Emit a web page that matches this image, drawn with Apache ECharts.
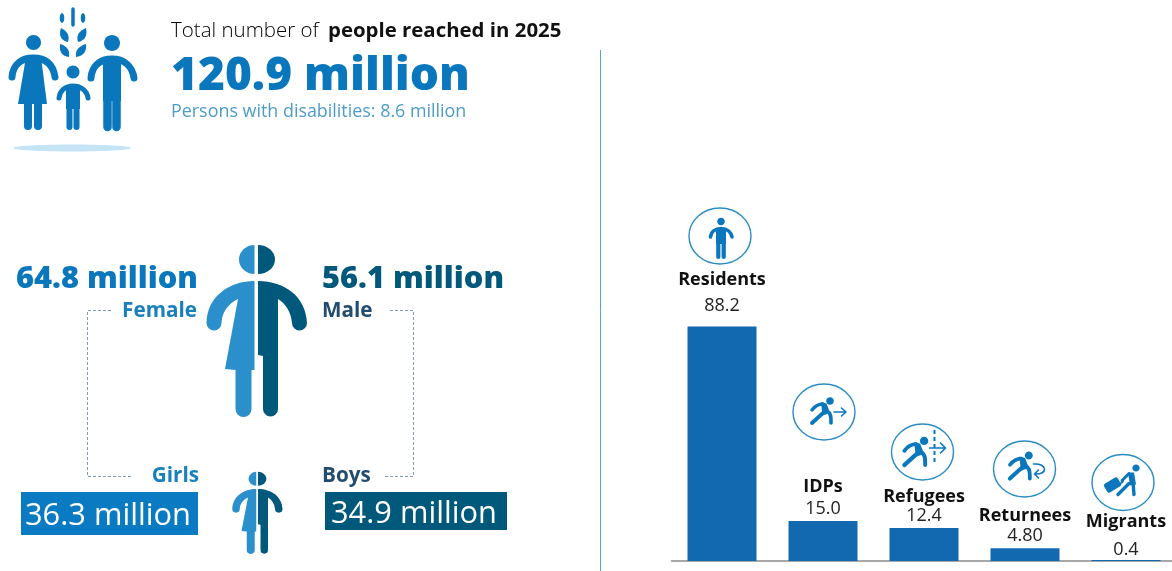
<!DOCTYPE html>
<html>
<head>
<meta charset="utf-8">
<style>html,body{margin:0;padding:0;background:#fff}#chart{width:1172px;height:571px}</style>
<script src="https://cdn.jsdelivr.net/npm/echarts@6/dist/echarts.min.js"></script>
</head>
<body>
<div id="chart"></div>
<script>
// Population groups reached, in millions
const groups = ['Residents', 'IDPs', 'Refugees', 'Returnees', 'Migrants'];
const groupValues = [88.2, 15.0, 12.4, 4.8, 0.4];
const groupValueLabels = ['88.2', '15.0', '12.4', '4.80', '0.4'];

// Headline figures, in millions
const totalReached = 120.9;
const withDisabilities = 8.6;
const female = 64.8;
const male = 56.1;
const girls = 36.3;
const boys = 34.9;

// Distance of each bar's value and name label above the bar top
const valueLift = [12, 3, 3, 3, 1];
const nameLift = [38, 25, 22, 23, 29];

const BLUE = '#0a77bd', MID = '#2a8fca', DARK = '#00587a', NAVY = '#224c70', BAR = '#1269b0', RING = '#2a8cc4';
const FONT = '"Open Sans", sans-serif';
const m = v => v.toFixed(1) + ' million';

function text(x, y, str, size, fill, weight, align) {
  return { type: 'text', x, y, silent: true, style: {
    text: str, fontFamily: FONT, fontSize: size, fontWeight: weight || 400,
    fill, textAlign: align || 'left', textVerticalAlign: 'middle' } };
}
function rect(x, y, w, h, fill) {
  return { type: 'rect', silent: true, shape: { x, y, width: w, height: h }, style: { fill } };
}
function dashes(points) {
  return { type: 'polyline', silent: true, shape: { points },
    style: { fill: null, stroke: '#7c9fb3', lineWidth: 1, lineDash: [3, 2] } };
}

// Vector shapes
const solid = (pathData, fill) => ({ type: 'path', shape: { pathData }, style: { fill } });
const line = (pathData, stroke, lineWidth, lineDash) => ({ type: 'path', shape: { pathData },
  style: { fill: null, stroke, lineWidth, lineCap: lineDash ? 'butt' : 'round', lineJoin: 'round', lineDash } });
const oval = (cx, cy, rx, ry, fill) => ({ type: 'ellipse', shape: { cx, cy, rx, ry }, style: { fill } });

// Half-and-half figure used for adults and children
function splitFigure(x, y, sx, sy) {
  return { type: 'group', x, y, scaleX: sx, scaleY: sy, children: [
    solid('M254.5 245 A15.5 14.5 0 0 0 254.5 274 Z', MID),
    solid('M258 245 A17 14.5 0 0 1 258 274 Z', DARK),
    solid('M254.5 281 C230 281 207 296 206.5 323 A7.5 7.5 0 0 0 221.5 323 C222 312 228 304 238 299 L225 369 L235.5 370 L235.5 409 A8 8 0 0 0 251.5 409 L251.5 370 L254.5 370 Z', MID),
    solid('M258 281 C285 281 306 297 307 323 A7.5 7.5 0 0 1 292 323 C291 312 286 304 278 299 L278 409 A7.5 7.5 0 0 1 263 409 L263 356 L258 355 Z', DARK)
  ] };
}

function familyIcon() {
  return { type: 'group', children: [
    oval(72, 148, 59, 3.5, '#c4e4f6'),
    // wheat
    line('M73 9 L73 25', BLUE, 3.5),
    oval(62, 18, 2.3, 5, BLUE), oval(83, 18, 2.3, 5, BLUE),
    solid('M61 28 C58 36 62 41 68 42 C70 35 67 31 61 28 Z', BLUE),
    solid('M86 28 C88 36 84 41 78 42 C76 35 79 31 86 28 Z', BLUE),
    solid('M60 44 C59 52 62 56 69 57 C70 50 67 46 60 44 Z', BLUE),
    solid('M86 44 C87 52 83 56 76 57 C75 50 79 46 86 44 Z', BLUE),
    // mother
    oval(33.5, 42.5, 7.5, 7.5, BLUE),
    line('M12 77 C13 64 22 58 33 58 C45 58 53 64 55 77', BLUE, 7),
    solid('M26 57 L41 57 L47 104 L18 104 Z', BLUE),
    line('M28 104 L28 126', BLUE, 8), line('M38 104 L38 126', BLUE, 8),
    // child
    oval(73, 72, 6.5, 6.5, BLUE),
    line('M59 98 C60 90 66 86 73 86 C80 86 87 90 88 98', BLUE, 5),
    rect(66, 85, 14, 24, BLUE),
    line('M69.5 108 L69.5 127', BLUE, 6), line('M76.5 108 L76.5 127', BLUE, 6),
    // father
    oval(112, 43, 8, 8, BLUE),
    line('M91 78 C92 65 101 59 112 59 C123 59 132 65 134 78', BLUE, 7),
    rect(103, 57, 18, 44, BLUE),
    line('M107.5 100 L107.5 127', BLUE, 8.5), line('M116.5 100 L116.5 127', BLUE, 8.5)
  ] };
}

// Badge pictograms, drawn around their own centre
const runner = (ox, oy, s) => ({ type: 'group', x: ox, y: oy, scaleX: s || 1, scaleY: s || 1, children: [
  oval(6, -11, 3.8, 3.8, BLUE),
  line('M-12 -2 C-9 -6 -5 -8 -1 -8', BLUE, 3.4),
  solid('M-3 -10 L2.5 -8.5 L6 1 L-1.5 3.5 Z', BLUE),
  line('M3 -1 C7 1 7 5 7 11', BLUE, 3.6),
  line('M-1 1 L-12 11', BLUE, 3.8)
] });

const glyphs = [
  { type: 'group', children: [
    oval(1, -14.5, 3.8, 3.8, BLUE),
    line('M-9.5 1 C-9 -4 -5 -7.5 1 -7.5 C7 -7.5 11 -4 12 1', BLUE, 3.6),
    rect(-4, -8, 10, 16, BLUE),
    line('M-1.7 7 L-1.7 21', BLUE, 4.2), line('M3.7 7 L3.7 21', BLUE, 4.2)
  ] },
  { type: 'group', children: [
    runner(0, 0),
    line('M10 0 L22 0 M17.5 -4 L22 0 L17.5 4', BLUE, 1.6)
  ] },
  { type: 'group', children: [
    runner(-5, 1, 1.1),
    line('M12 -22 L12 11', BLUE, 2, [4, 3]),
    line('M7 -4 L23 -4 M18 -9 L23 -4 L18 1', BLUE, 1.6)
  ] },
  { type: 'group', children: [
    runner(-2, -2, 1.05),
    line('M9 -5 C23 -6 24 6 10 5 M14 1 L10 5 L14 9', BLUE, 1.6)
  ] },
  { type: 'group', children: [
    oval(13, -14.5, 3.6, 3.6, BLUE),
    solid('M5 -10 L11 -10 L13 2 L7 3 Z', BLUE),
    line('M6 -9 L-1 -2', BLUE, 3),
    line('M10 0 L11 12', BLUE, 3.4), line('M6 1 L-5 12', BLUE, 3.4),
    line('M0 -1 L-4 2', BLUE, 1.6),
    { type: 'rect', x: -10.5, y: 2.5, rotation: 0.55,
      shape: { x: -8, y: -5, width: 16, height: 10, r: 2 }, style: { fill: BLUE } }
  ] }
];

// Badge centres
const badges = [
  { cx: 720, cy: 236 }, { cx: 824, cy: 412 }, { cx: 922.5, cy: 452 },
  { cx: 1024.5, cy: 469 }, { cx: 1123, cy: 482.5 }
];

const chart = echarts.init(document.getElementById('chart'), null, { renderer: 'canvas' });

chart.setOption({
  animation: false,
  backgroundColor: '#fff',
  grid: { left: 671.5, width: 505, top: 295, height: 266, outerBoundsMode: 'none' },
  xAxis: {
    type: 'category', data: groups,
    axisLine: { lineStyle: { color: '#8a8a8a', width: 1.5 } },
    axisTick: { show: false }, axisLabel: { show: false }
  },
  yAxis: { type: 'value', min: 0, max: 100, show: false },
  graphic: { elements: [
    // Headline
    text(171, 31, 'Total number of', 20.5, '#000', 300),
    text(328, 31, 'people reached in 2025', 20.4, '#111', 700),
    text(171, 77, m(totalReached), 46, BLUE, 800),
    text(171, 112, 'Persons with disabilities: ' + m(withDisabilities), 17.9, '#4c9cc8', 400),
    // Panel divider
    { type: 'line', silent: true, shape: { x1: 600.5, y1: 50, x2: 600.5, y2: 571 },
      style: { stroke: '#5aa3cb', lineWidth: 1 } },
    // Adults
    text(198, 279.5, m(female), 30.8, BLUE, 800, 'right'),
    text(322, 279.5, m(male), 30.8, DARK, 800),
    text(197, 311, 'Female', 20.7, '#1a80bd', 700, 'right'),
    text(322, 311, 'Male', 20.7, NAVY, 700),
    // Brackets linking adults to children
    dashes([[111, 310.5], [87.5, 310.5], [87.5, 476.5], [131, 476.5]]),
    dashes([[390, 310.5], [413.5, 310.5], [413.5, 476.5], [383, 476.5]]),
    // Children
    text(199, 476, 'Girls', 20.7, '#1a80bd', 700, 'right'),
    text(322, 476, 'Boys', 20.7, NAVY, 700),
    rect(21, 492, 177, 43, '#0a7bc2'),
    rect(325, 492, 182, 38, DARK),
    text(25, 516.5, m(girls), 30.8, '#fff', 400),
    text(331, 514, m(boys), 30.8, '#fff', 400)
  ] },
  series: [
    {
      type: 'bar', barWidth: 69, barGap: '-100%', silent: true,
      itemStyle: { color: BAR },
      data: groupValues.map((value, i) => ({
        value,
        label: { show: true, position: 'top', distance: valueLift[i],
          formatter: groupValueLabels[i], fontFamily: FONT, fontSize: 18, color: '#222' }
      }))
    },
    {
      // Invisible twin of the bars that carries the group names
      type: 'bar', barWidth: 69, barGap: '-100%', silent: true,
      itemStyle: { color: 'transparent' },
      data: groupValues.map((value, i) => ({
        value,
        label: { show: true, position: 'top', distance: nameLift[i],
          formatter: groups[i], fontFamily: FONT, fontSize: 18, fontWeight: 700, color: '#111' }
      }))
    },
    {
      // Pictograms and badges
      type: 'custom', coordinateSystem: 'none', silent: true, data: [0],
      renderItem: () => ({
        type: 'group',
        children: [
          familyIcon(),
          splitFigure(0, 0, 1, 1),
          splitFigure(129, 355, 0.5, 0.477),
          ...badges.map((b, i) => ({
            type: 'group', x: b.cx, y: b.cy,
            children: [
              { type: 'ellipse', shape: { cx: 0, cy: 0, rx: 31, ry: 28 },
                style: { fill: '#fff', stroke: RING, lineWidth: 1.4 } },
              glyphs[i]
            ]
          }))
        ]
      })
    }
  ]
});
</script>
</body>
</html>
